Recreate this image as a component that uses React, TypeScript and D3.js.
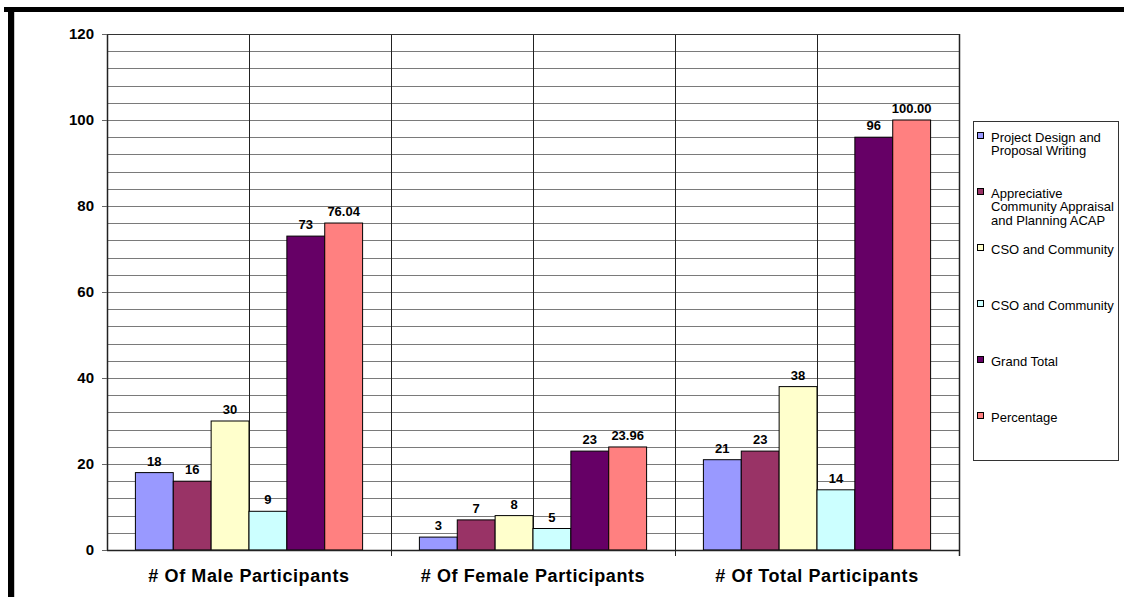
import React from 'react';
import * as d3 from 'd3';

const categories = ['# Of Male Participants', '# Of Female Participants', '# Of Total Participants'];
const seriesNames = [
  'Project Design and Proposal Writing',
  'Appreciative Community Appraisal and Planning ACAP',
  'CSO and Community',
  'CSO and Community ',
  'Grand Total',
  'Percentage',
];
const legendLines = [
  ['Project Design and', 'Proposal Writing'],
  ['Appreciative', 'Community Appraisal', 'and Planning ACAP'],
  ['CSO and Community'],
  ['CSO and Community'],
  ['Grand Total'],
  ['Percentage'],
];
const seriesColors = ['#9999FF', '#993366', '#FFFFCC', '#CCFFFF', '#660066', '#FF8080'];
// values per series, in category order (male, female, total)
const projectDesign = [18, 3, 21];
const acap = [16, 7, 23];
const csoCommunity1 = [30, 8, 38];
const csoCommunity2 = [9, 5, 14];
const grandTotal = [73, 23, 96];
const percentage = [76.04, 23.96, 100.0];
const yTicks = [0, 20, 40, 60, 80, 100, 120];

const seriesValues = [projectDesign, acap, csoCommunity1, csoCommunity2, grandTotal, percentage];

const W = 1124;
const H = 597;
const left = 107;
const right = 959;
const top = 34;
const bottom = 550;
const font = 'Arial, "Liberation Sans", sans-serif';

export default function App() {
  const y = d3.scaleLinear().domain([0, 120]).range([bottom, top]);
  const x = d3.scaleBand<string>().domain(categories).range([left, right]).padding(0);
  const inner = d3
    .scaleBand<number>()
    .domain(d3.range(seriesNames.length))
    .range([0, x.bandwidth()])
    .paddingInner(0)
    .paddingOuter(0.75);

  const minor = d3.range(0, 121, 4);
  // vertical lines at category boundaries and at category centres
  const vLines: number[] = [];
  categories.forEach((c) => {
    vLines.push(x(c)! + x.bandwidth() / 2);
    vLines.push(x(c)! + x.bandwidth());
  });

  return (
    <div style={{ position: 'absolute', left: 0, top: 0 }}>
      <svg width={W} height={H} style={{ display: 'block', background: '#fff' }}>
        {/* outer frame */}
        <rect x={4} y={7} width={W - 4} height={5} fill="#000" />
        <rect x={8} y={7} width={6} height={H - 7} fill="#000" />
        <line x1={14.5} y1={12} x2={14.5} y2={H} stroke="#c8c8c8" />

        {/* horizontal gridlines */}
        {minor.map((v) => (
          <line key={v} x1={left} x2={right} y1={Math.round(y(v)) + 0.5} y2={Math.round(y(v)) + 0.5} stroke="#7a7a7a" strokeWidth={1} />
        ))}
        {/* vertical lines */}
        {vLines.map((vx, i) => (
          <line key={i} x1={Math.round(vx) + 0.5} x2={Math.round(vx) + 0.5} y1={top} y2={bottom} stroke="#222" strokeWidth={1} />
        ))}
        {/* category ticks */}
        {categories.map((c) => (
          <line key={c} x1={Math.round(x(c)! + x.bandwidth()) + 0.5} x2={Math.round(x(c)! + x.bandwidth()) + 0.5} y1={bottom} y2={bottom + 6} stroke="#222" />
        ))}

        {/* bars */}
        {seriesValues.map((vals, si) =>
          vals.map((v, ci) => {
            const bx = x(categories[ci])! + inner(si)!;
            return (
              <rect
                key={`${si}-${ci}`}
                x={bx}
                y={y(v)}
                width={inner.bandwidth()}
                height={bottom - y(v)}
                fill={seriesColors[si]}
                stroke="#000"
                strokeWidth={1}
              />
            );
          })
        )}

        {/* value labels */}
        {seriesValues.map((vals, si) =>
          vals.map((v, ci) => (
            <text
              key={`l${si}-${ci}`}
              x={x(categories[ci])! + inner(si)! + inner.bandwidth() / 2}
              y={y(v) - 7}
              textAnchor="middle"
              fontFamily={font}
              fontWeight="bold"
              fontSize={13}
              fill="#000"
            >
              {si === 5 ? v.toFixed(2) : String(v)}
            </text>
          ))
        )}

        {/* axes */}
        <line x1={left + 0.5} x2={left + 0.5} y1={top} y2={bottom} stroke="#222" strokeWidth={1.5} />
        <line x1={left} x2={right} y1={bottom + 0.5} y2={bottom + 0.5} stroke="#222" strokeWidth={1.5} />
        <line x1={right + 0.5} x2={right + 0.5} y1={top} y2={bottom + 6} stroke="#222" strokeWidth={1.5} />
        <line x1={left} x2={right} y1={top + 0.5} y2={top + 0.5} stroke="#333" strokeWidth={1} />
        {yTicks.map((t) => (
          <g key={t}>
            <line x1={left - 5} x2={left} y1={Math.round(y(t)) + 0.5} y2={Math.round(y(t)) + 0.5} stroke="#666" />
            <text x={94} y={y(t) + 5} textAnchor="end" fontFamily={font} fontWeight="bold" fontSize={15} fill="#000">
              {t}
            </text>
          </g>
        ))}
        {categories.map((c) => (
          <text
            key={c}
            x={x(c)! + x.bandwidth() / 2}
            y={582}
            textAnchor="middle"
            fontFamily={font}
            fontWeight="bold"
            fontSize={18}
            letterSpacing={0.6}
            fill="#000"
          >
            {c}
          </text>
        ))}

        {/* legend */}
        <rect x={973.5} y={121.5} width={145} height={339} fill="#fff" stroke="#333" strokeWidth={1} />
        {legendLines.map((lines, i) => {
          const ly = 137 + 56 * i;
          return (
            <g key={i}>
              <rect x={977.5} y={ly - 4.5} width={6} height={6} fill={seriesColors[i]} stroke="#000" strokeWidth={1} />
              {lines.map((ln, j) => (
                <text key={j} x={991} y={ly + 4.5 + j * 13.5} fontFamily={font} fontSize={13} fill="#000">
                  {ln}
                </text>
              ))}
            </g>
          );
        })}
      </svg>
    </div>
  );
}
